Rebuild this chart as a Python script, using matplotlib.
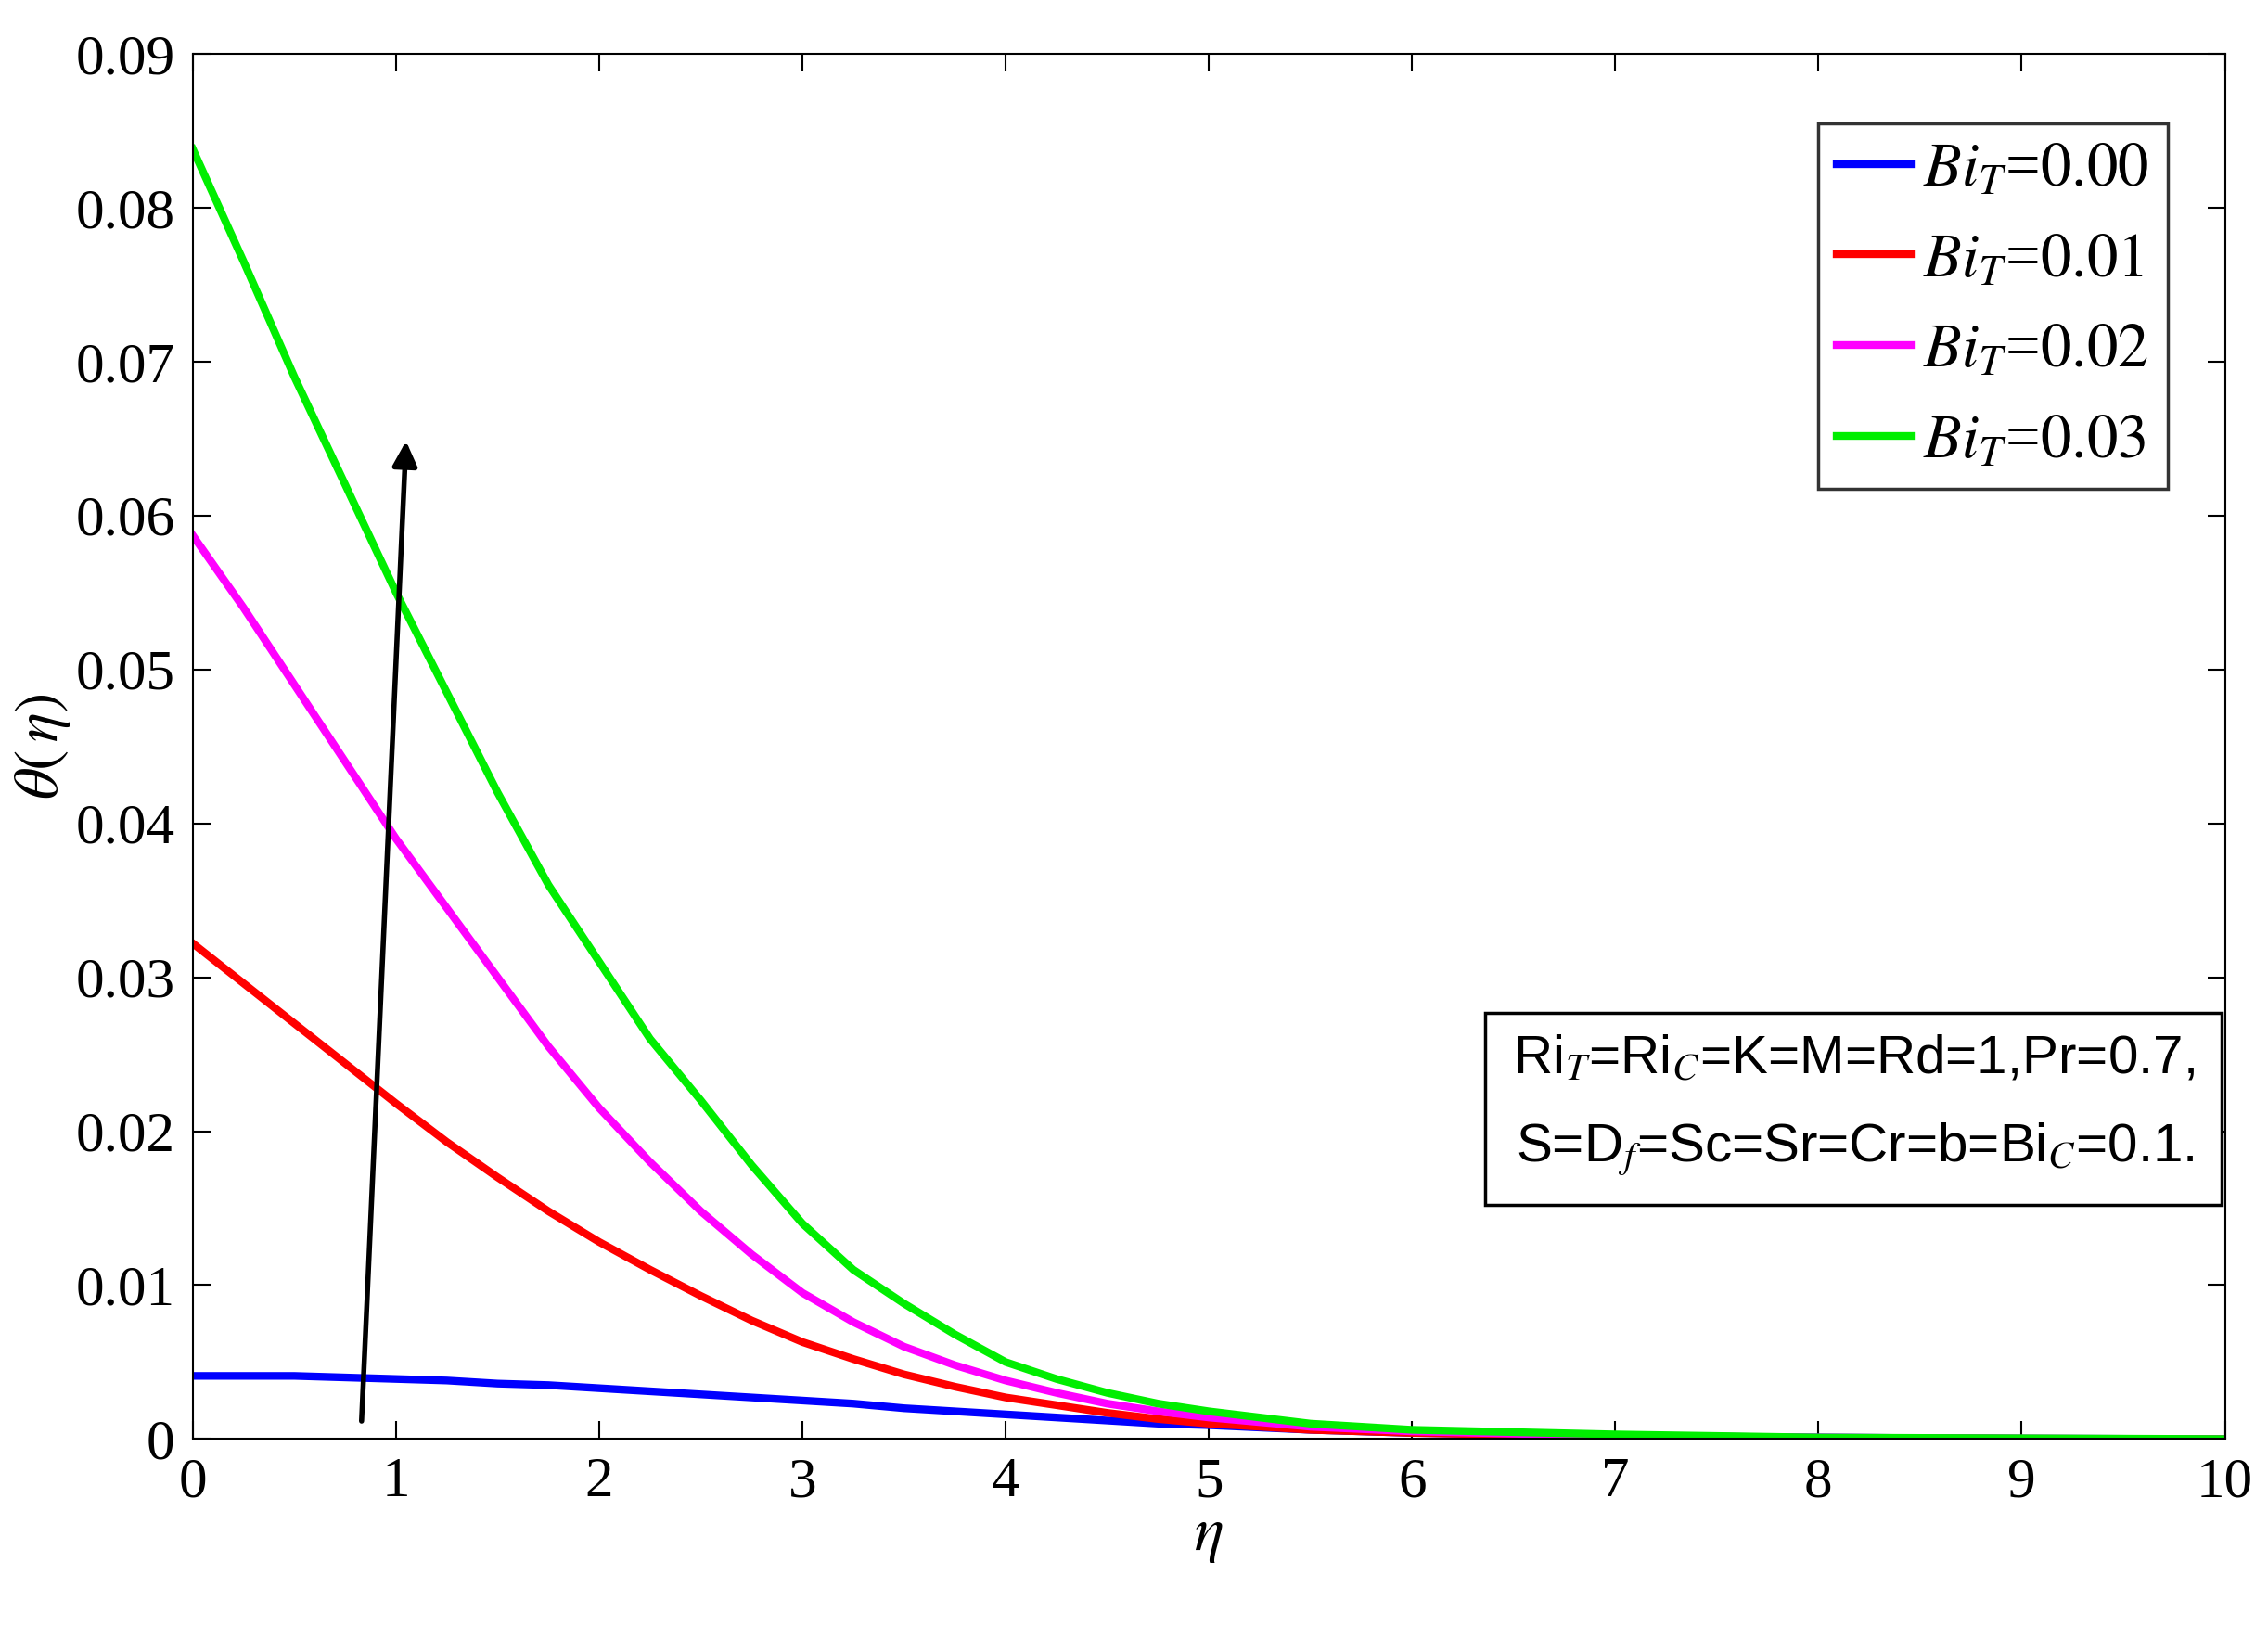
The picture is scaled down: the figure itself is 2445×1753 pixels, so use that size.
import matplotlib
matplotlib.use("Agg")
import matplotlib.pyplot as plt

plt.rcParams["font.family"] = ["Liberation Serif", "DejaVu Serif"]
plt.rcParams["mathtext.fontset"] = "stix"

eta = [0, 0.25, 0.5, 0.75, 1, 1.25, 1.5, 1.75, 2, 2.25, 2.5, 2.75, 3, 3.25, 3.5, 3.75,
       4, 4.25, 4.5, 4.75, 5, 5.5, 6, 7, 8, 9, 10]
theta_000 = [0.0041, 0.0041, 0.0041, 0.0040, 0.0039, 0.0038, 0.0036, 0.0035, 0.0033, 0.0031,
             0.0029, 0.0027, 0.0025, 0.0023, 0.0020, 0.0018, 0.0016, 0.0014, 0.0012, 0.0010,
             0.0009, 0.0006, 0.0004, 0.0002, 0.0001, 0.00003, 0.0]
theta_001 = [0.0322, 0.0296, 0.0270, 0.0244, 0.0218, 0.0193, 0.0170, 0.0148, 0.0128, 0.0110,
             0.0093, 0.0077, 0.0063, 0.0052, 0.0042, 0.0034, 0.0027, 0.0022, 0.0017, 0.0013,
             0.0010, 0.0006, 0.0004, 0.00015, 0.00005, 0.00002, 0.0]
theta_002 = [0.0587, 0.0540, 0.0490, 0.0440, 0.0390, 0.0345, 0.0300, 0.0255, 0.0215, 0.0180,
             0.0148, 0.0120, 0.0095, 0.0076, 0.0060, 0.0048, 0.0038, 0.0030, 0.0023, 0.0018,
             0.0014, 0.0008, 0.0005, 0.0002, 0.0001, 0.00003, 0.0]
theta_003 = [0.0838, 0.0765, 0.0690, 0.0620, 0.0550, 0.0485, 0.0420, 0.0360, 0.0310, 0.0260,
             0.0220, 0.0178, 0.0140, 0.0110, 0.0088, 0.0068, 0.0050, 0.0039, 0.0030, 0.0023,
             0.0018, 0.0010, 0.0006, 0.0003, 0.0001, 0.00005, 0.0]
labels = ["0.00", "0.01", "0.02", "0.03"]
colors = ["#0000ff", "#ff0000", "#ff00ff", "#00ee00"]

fig = plt.figure(figsize=(24.45, 17.53), dpi=100)
ax = fig.add_axes([0.085, 0.115, 0.896, 0.852])

for vals, lab, c in zip([theta_000, theta_001, theta_002, theta_003], labels, colors):
    ax.plot(eta, vals, color=c, linewidth=6, label=rf"$Bi_T$=$\it{{{lab}}}$")

ax.annotate("", xy=(1.05, 0.065), xytext=(0.83, 0.001),
            arrowprops=dict(arrowstyle="-|>", color="black", lw=4, mutation_scale=40))

ax.set_xlim(0, 10)
ax.set_ylim(0, 0.09)
ax.set_xticks(range(11))
ax.set_yticks([i * 0.01 for i in range(10)])
ax.set_yticklabels(["0"] + [f"{i * 0.01:.2f}" for i in range(1, 10)])
ax.tick_params(direction="in", top=True, right=True, labelsize=44, length=14, width=1.5, pad=14)
for s in ax.spines.values():
    s.set_linewidth(1.5)
ax.set_xlabel(r"$\eta$", fontsize=48, labelpad=0)
ax.set_ylabel(r"$\theta(\,\eta)$", fontsize=48, labelpad=2)

leg = ax.legend(loc="upper right", fontsize=48, frameon=True, fancybox=False,
                edgecolor="black", handlelength=1.2, handletextpad=0.2, labelspacing=0.55,
                borderpad=0.3, bbox_to_anchor=(0.987, 0.972))
leg.get_frame().set_linewidth(2.5)

ax.text(0.985, 0.24,
        r"Ri$_T$=Ri$_C$=K=M=Rd=1,Pr=0.7," + "\n" + r"S=D$_f$=Sc=Sr=Cr=b=Bi$_C$=0.1.",
        transform=ax.transAxes, ha="right", va="center", fontsize=42,
        family=["Liberation Sans Narrow", "Liberation Sans", "DejaVu Sans"], linespacing=1.9,
        bbox=dict(boxstyle="square,pad=0.5", facecolor="white", edgecolor="black", linewidth=2.5))

fig.savefig("out.png", dpi=100)
